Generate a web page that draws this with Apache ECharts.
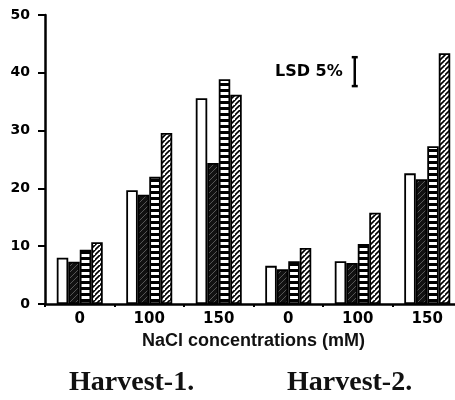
<!DOCTYPE html>
<html>
<head>
<meta charset="utf-8">
<script src="https://cdn.jsdelivr.net/npm/echarts@6/dist/echarts.min.js"></script>
<style>
  html, body { margin: 0; padding: 0; background: #fff; }
  #chart { width: 455px; height: 400px; }
</style>
</head>
<body>
<div id="chart"></div>
<script>
// NaCl concentrations, two harvests side by side
var concentrations = ['0', '100', '150', '0', '100', '150'];
var barsOpen = [8.0, 19.7, 35.6, 6.6, 7.4, 22.6];
var barsDark = [7.3, 18.9, 24.4, 6.0, 7.1, 21.6];
var barsLadder = [9.4, 22.0, 38.9, 7.4, 10.4, 27.3];
var barsHatch = [10.7, 29.6, 36.2, 9.7, 15.8, 43.4];
var harvestNames = ['Harvest-1.', 'Harvest-2.'];
var lsdText = 'LSD 5%';
var lsdBar = [[4, 37.7, 42.7]]; // [category index, low, high]

// small canvas tiles used as bar fills
function makeTile(w, h, draw) {
  var c = document.createElement('canvas');
  c.width = w;
  c.height = h;
  draw(c.getContext('2d'), w, h);
  return { image: c, repeat: 'repeat' };
}

var darkFill = makeTile(6, 6, function (ctx, w, h) {
  ctx.fillStyle = '#111';
  ctx.fillRect(0, 0, w, h);
  ctx.strokeStyle = '#6a6a6a';
  ctx.lineWidth = 0.8;
  ctx.beginPath();
  ctx.moveTo(0, h); ctx.lineTo(w, 0);
  ctx.stroke();
});

var ladderFill = makeTile(6, 6, function (ctx, w, h) {
  ctx.fillStyle = '#000';
  ctx.fillRect(0, 0, w, h);
  ctx.fillStyle = '#fff';
  ctx.fillRect(0, 2, w, 3);
});

var hatchFill = makeTile(5, 5, function (ctx, w, h) {
  ctx.fillStyle = '#fff';
  ctx.fillRect(0, 0, w, h);
  ctx.strokeStyle = '#000';
  ctx.lineWidth = 1.6;
  ctx.beginPath();
  ctx.moveTo(-1, h + 1); ctx.lineTo(w + 1, -1);
  ctx.moveTo(-1 - w, h + 1); ctx.lineTo(1, -1);
  ctx.moveTo(w - 1, 2 * h + 1); ctx.lineTo(2 * w + 1, h - 1);
  ctx.stroke();
});

function barSeries(name, data, fill) {
  return {
    name: name,
    type: 'bar',
    data: data,
    barWidth: 11.5,
    barGap: '0%',
    itemStyle: { color: fill, borderColor: '#000', borderWidth: 1.8 }
  };
}

var chart = echarts.init(document.getElementById('chart'), null, { renderer: 'canvas' });

var option = {
  backgroundColor: '#fff',
  animation: false,
  title: [
    {
      text: harvestNames[0], left: 64, top: 364,
      textStyle: { fontFamily: 'Liberation Serif', fontSize: 28, fontWeight: 'bold', color: '#111' }
    },
    {
      text: harvestNames[1], left: 282, top: 364,
      textStyle: { fontFamily: 'Liberation Serif', fontSize: 28, fontWeight: 'bold', color: '#111' }
    }
  ],
  // the plot runs a little past the right edge of the picture
  grid: { left: 45, width: 417, top: 15, height: 289, containLabel: false, outerBoundsMode: 'none' },
  xAxis: {
    type: 'category',
    data: concentrations,
    name: 'NaCl concentrations (mM)',
    nameLocation: 'middle',
    nameGap: 28,
    nameTextStyle: { fontFamily: 'Liberation Sans', fontSize: 18, fontWeight: 'bold', color: '#111' },
    axisLine: { lineStyle: { color: '#000', width: 2.5 } },
    axisTick: { show: true, length: 3, lineStyle: { color: '#000', width: 2 } },
    axisLabel: { margin: 8, fontFamily: 'DejaVu Sans', fontSize: 15, fontWeight: 'bold', color: '#000' },
    splitLine: { show: false }
  },
  yAxis: {
    type: 'value',
    min: 0,
    max: 50,
    interval: 10,
    axisLine: { show: true, lineStyle: { color: '#000', width: 2.5 } },
    axisTick: { show: true, length: 7, lineStyle: { color: '#000', width: 2 } },
    axisLabel: { margin: 15, fontFamily: 'DejaVu Sans', fontSize: 14, fontWeight: 'bold', color: '#000' },
    splitLine: { show: false }
  },
  series: [
    barSeries('A', barsOpen, '#fff'),
    barSeries('B', barsDark, darkFill),
    barSeries('C', barsLadder, ladderFill),
    barSeries('D', barsHatch, hatchFill),
    {
      name: 'LSD',
      type: 'custom',
      data: lsdBar,
      z: 5,
      renderItem: function (params, api) {
        var lo = api.coord([api.value(0), api.value(1)]);
        var hi = api.coord([api.value(0), api.value(2)]);
        var x = lo[0] - 3;
        var stroke = { stroke: '#000', lineWidth: 2.5 };
        return {
          type: 'group',
          children: [
            { type: 'line', shape: { x1: x, y1: lo[1], x2: x, y2: hi[1] }, style: stroke },
            { type: 'line', shape: { x1: x - 3, y1: lo[1], x2: x + 3, y2: lo[1] }, style: stroke },
            { type: 'line', shape: { x1: x - 3, y1: hi[1], x2: x + 3, y2: hi[1] }, style: stroke },
            {
              type: 'text',
              style: {
                text: lsdText, x: x - 12, y: (lo[1] + hi[1]) / 2,
                align: 'right', verticalAlign: 'middle',
                font: 'bold 16px "DejaVu Sans"', fill: '#000'
              }
            }
          ]
        };
      }
    }
  ]
};

chart.setOption(option);
window.addEventListener('resize', chart.resize);
</script>
</body>
</html>
